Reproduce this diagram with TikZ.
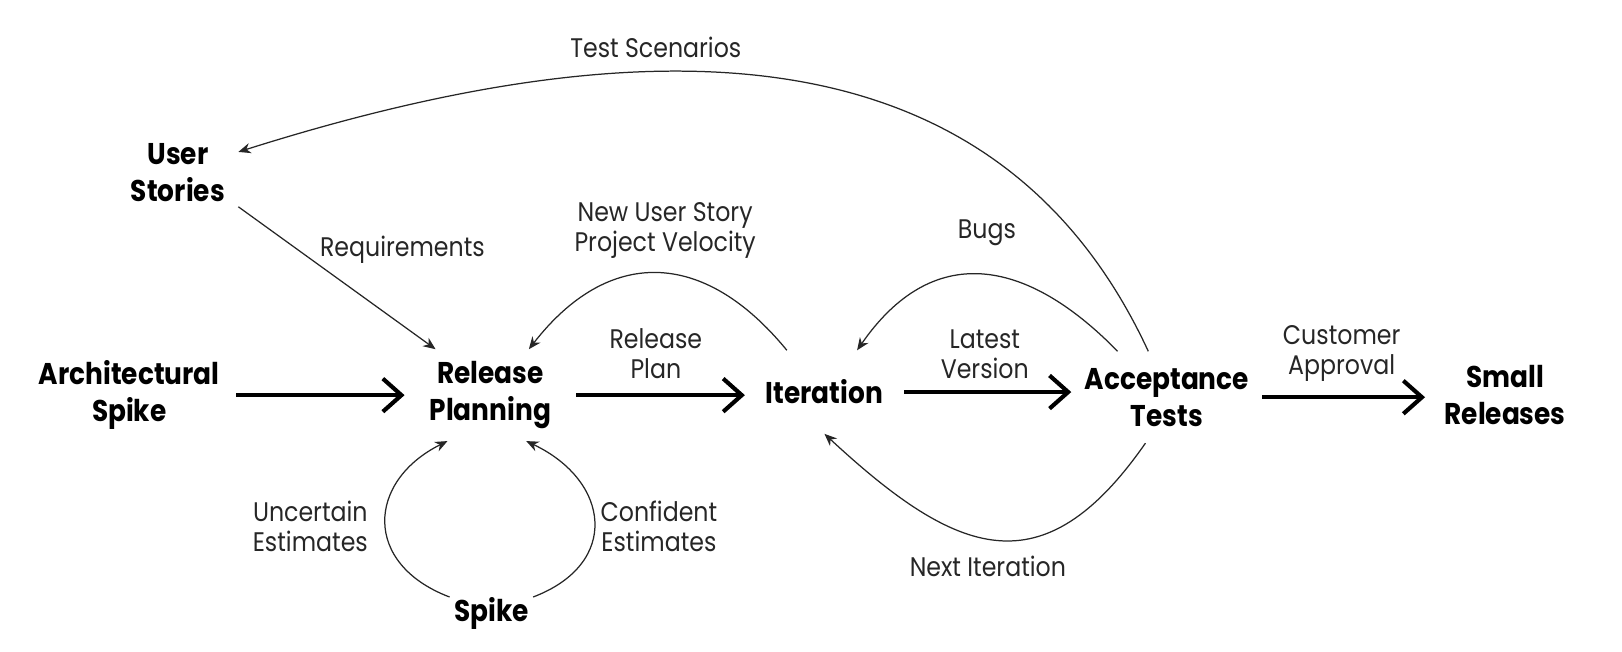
\documentclass[tikz,border=0pt]{standalone}
\usepackage{fontspec}
\setmainfont{Poppins}[FakeStretch=0.88]
\usetikzlibrary{arrows.meta}
\begin{document}
\begin{tikzpicture}[x=0.5pt,y=-0.5pt,
  main/.style={font=\bfseries\fontsize{14.5}{18}\selectfont, align=center, inner sep=0pt, text=black},
  lbl/.style={font=\fontsize{13}{14.5}\selectfont, align=center, inner sep=0pt, text=black!85},
  big/.style={line width=2pt, -{Straight Barb[length=9pt,width=16pt]}},
  thin/.style={line width=0.6pt, draw=black!85, -{Stealth[length=6pt,width=5pt]}}
]
\useasboundingbox (0,0) rectangle (1568,630);
% main nodes
\node[main, minimum width=103pt, minimum height=30pt] (as) at (125,382) {Architectural\\Spike};
\node[main, minimum width=82.5pt, minimum height=44pt] (rp) at (474,382) {Release\\Planning};
\node[main, minimum width=76.5pt, minimum height=40pt] (it) at (797,379) {Iteration};
\node[main, minimum width=92pt, minimum height=44pt] (at) at (1128,384) {Acceptance\\Tests};
\node[main, minimum width=77pt, minimum height=30pt] (sr) at (1455,382) {Small\\Releases};
\node[main, minimum width=58pt, minimum height=32.5pt] (us) at (172,167) {User\\Stories};
\node[main, minimum width=40pt, minimum height=15pt] (sp) at (475,593) {Spike};
% labels
\node[lbl] (lts) at (634,46) {Test Scenarios};
\node[lbl] (lrq) at (389,241) {Requirements};
\node[lbl] (lnu) at (643,223) {New User Story\\Project Velocity};
\node[lbl] (lbg) at (954,225) {Bugs};
\node[lbl] (lrp) at (634,342) {Release\\Plan};
\node[lbl] (llv) at (952,342) {Latest\\Version};
\node[lbl] (lca) at (1297,342) {Customer\\Approval};
\node[lbl] (lue) at (300,509) {Uncertain\\Estimates};
\node[lbl] (lce) at (637,509) {Confident\\Estimates};
\node[lbl] (lni) at (955,548) {Next Iteration};
% thick arrows
\draw[big] (as.east) -- (rp.west);
\draw[big] (rp.east) -- (rp.east -| it.west);
\draw[big] (it.east) -- (it.east -| at.west);
\draw[big] (at.east) -- (at.east -| sr.west);
% thin curved arrows
\draw[thin] (at.112) .. controls (964,24) and (628,21) .. (us.19);
\draw[thin] (us.south east) -- (rp.140);
\draw[thin] (it.132) .. controls (680,240) and (588,239) .. (rp.50);
\draw[thin] (at.137) .. controls (991,248) and (901,234) .. (it.52);
\draw[thin] (at.245) .. controls (1008,571) and (925,538) .. (it.south);
\draw[thin] (sp.north west) .. controls (350,545) and (355,465) .. (rp.227);
\draw[thin] (sp.north east) .. controls (600,545) and (590,465) .. (rp.308);
\end{tikzpicture}
\end{document}
